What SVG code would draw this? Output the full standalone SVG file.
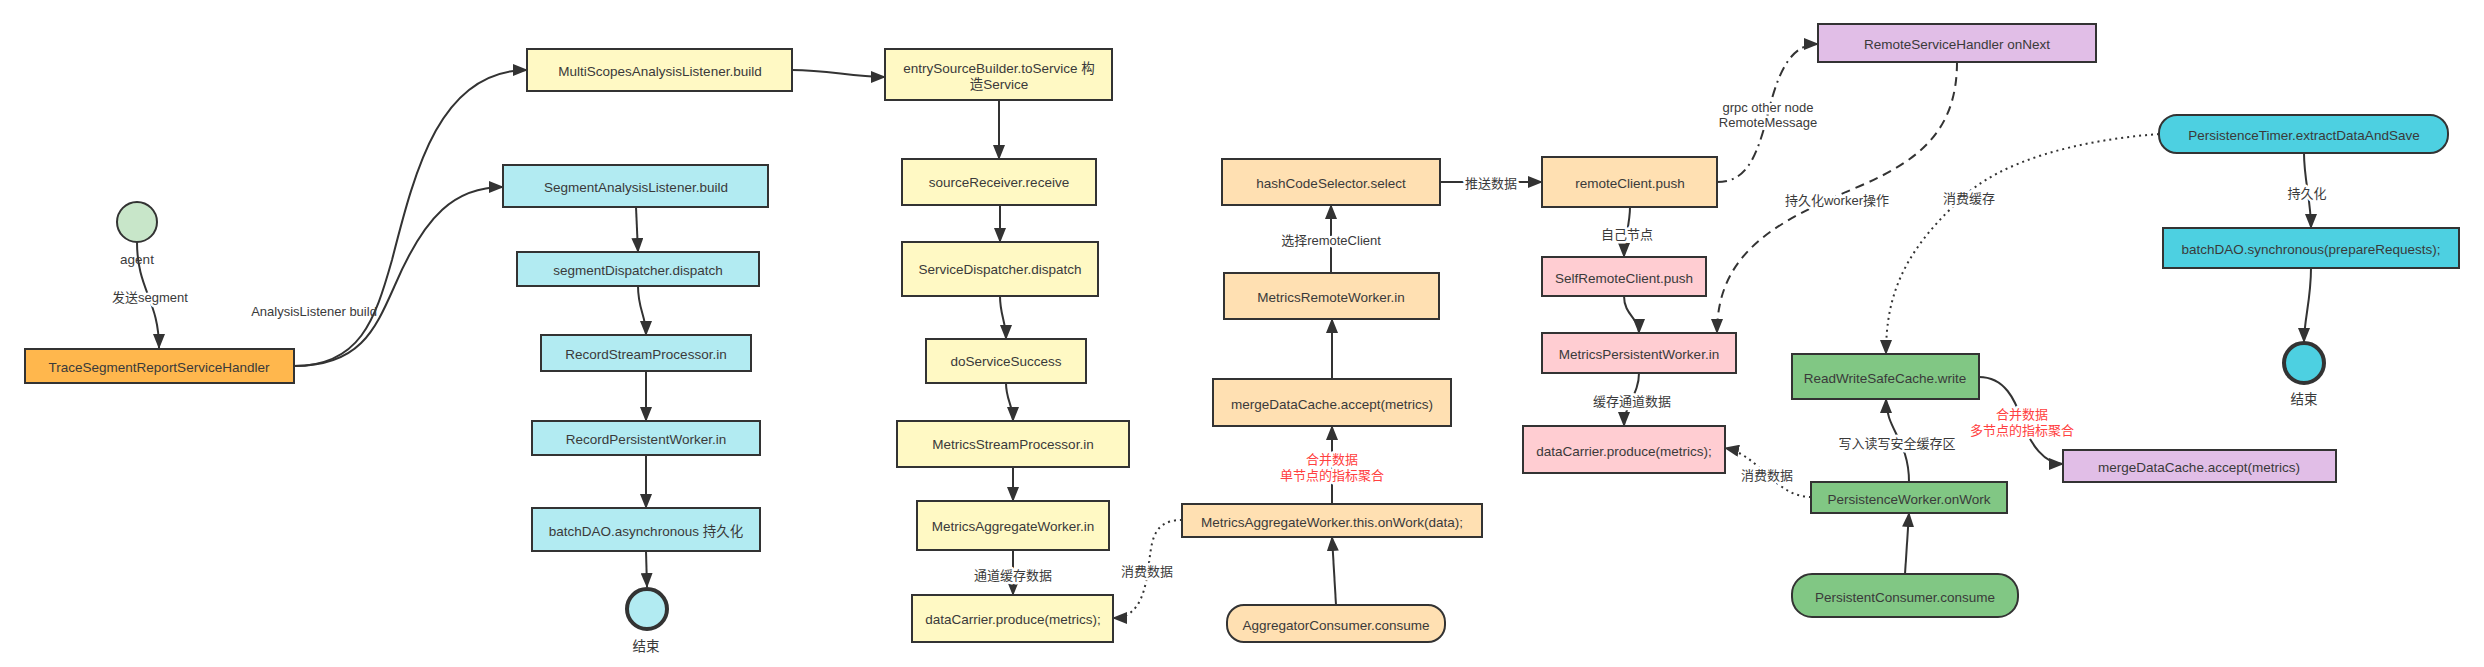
<svg xmlns="http://www.w3.org/2000/svg" width="2484" height="667" viewBox="0 0 2484 667">
<defs>
<style>
text{font-family:"Liberation Sans","Noto Sans CJK SC",sans-serif;fill:#3a3a3a;}
.n{stroke:#333;stroke-width:2;}
.t{font-size:13.5px;text-anchor:middle;dominant-baseline:central;}
.l{font-size:13px;text-anchor:middle;dominant-baseline:central;paint-order:stroke;stroke:#fff;stroke-width:5px;stroke-linejoin:round;}
.r{fill:#ff4040;}
.e{fill:none;stroke:#333;stroke-width:2;marker-end:url(#ah);}
.dot{stroke-dasharray:2 4;}
.dash{stroke-dasharray:9 6;}
.dd{stroke-dasharray:10 5 2 5;}
.y{fill:#fff9c4;} .c{fill:#b2ebf2;} .o{fill:#ffe0b2;} .p{fill:#ffcdd2;} .v{fill:#e1bee7;} .g{fill:#81c784;} .b{fill:#4dd0e1;}
</style>
<marker id="ah" markerUnits="userSpaceOnUse" markerWidth="16" markerHeight="12" refX="14" refY="6" orient="auto">
<path d="M0,0 L15,6 L0,12 Z" fill="#333"/>
</marker>
</defs>
<rect width="2484" height="667" fill="#fff"/>

<g id="connectors">
<path class="e" d="M137,242 C137,290 159,300 159,348"/>
<path class="e" d="M294,366 C360,366 375,320 392,260 C415,170 440,70 527,70"/>
<path class="e" d="M294,366 C360,366 375,330 395,285 C425,215 455,187 503,187"/>
<path class="e" d="M792,70 C830,70 850,77 885,77"/>
<path class="e" d="M999,100 L999,159"/>
<path class="e" d="M1000,205 L1000,242"/>
<path class="e" d="M1000,296 C1000,315 1006,322 1006,339"/>
<path class="e" d="M1006,383 C1006,400 1013,405 1013,421"/>
<path class="e" d="M1013,467 L1013,501"/>
<path class="e" d="M1013,550 L1013,595"/>
<path class="e" d="M636,207 L638,252"/>
<path class="e" d="M638,286 C638,310 646,315 646,335"/>
<path class="e" d="M646,371 L646,421"/>
<path class="e" d="M646,455 L646,508"/>
<path class="e" d="M646,551 L647,587"/>
<path class="e" d="M1336,605 L1332,537"/>
<path class="e" d="M1332,504 L1332,426"/>
<path class="e" d="M1332,379 L1332,319"/>
<path class="e" d="M1331,273 L1331,205"/>
<path class="e" d="M1440,182 L1542,182"/>
<path class="e dot" d="M1182,520 C1150,520 1152,545 1148,570 C1144,600 1135,618 1113,618"/>
<path class="e" d="M1630,207 C1630,225 1624,240 1624,257"/>
<path class="e" d="M1624,296 C1624,315 1639,318 1639,333"/>
<path class="e" d="M1639,373 C1639,395 1624,405 1624,426"/>
<path class="e dd" d="M1717,182 C1745,182 1755,160 1765,125 C1775,85 1785,44 1818,44"/>
<path class="e dash" d="M1957,62 C1957,130 1920,160 1860,186 C1780,220 1717,250 1717,333"/>
<path class="e dot" d="M2159,134 C2080,140 2000,160 1960,200 C1900,255 1886,300 1886,354"/>
<path class="e" d="M1905,574 L1909,513"/>
<path class="e" d="M1909,482 C1909,440 1886,430 1886,399"/>
<path class="e dot" d="M1811,497 C1775,497 1760,455 1725,448"/>
<path class="e" d="M1979,377 C2005,377 2015,400 2022,420 C2030,445 2045,464 2063,464"/>
<path class="e" d="M2304,153 C2304,180 2311,200 2311,228"/>
<path class="e" d="M2311,268 C2311,300 2304,320 2304,342"/>

<text class="l" x="150" y="297">发送segment</text>
<text class="t" x="314" y="311" style="font-size:13px">AnalysisListener build</text>
<text class="l" x="1013" y="575">通道缓存数据</text>
<text class="l" x="1147" y="571">消费数据</text>
<text class="l r" x="1332" y="459">合并数据</text>
<text class="l r" x="1332" y="475">单节点的指标聚合</text>
<text class="l" x="1331" y="240">选择remoteClient</text>
<text class="l" x="1491" y="183">推送数据</text>
<text class="l" x="1768" y="107">grpc other node</text>
<text class="l" x="1768" y="122">RemoteMessage</text>
<text class="l" x="1627" y="234">自己节点</text>
<text class="l" x="1632" y="401">缓存通道数据</text>
<text class="l" x="1837" y="200">持久化worker操作</text>
<text class="l" x="1969" y="198">消费缓存</text>
<text class="l" x="1897" y="443">写入读写安全缓存区</text>
<text class="l" x="1767" y="475">消费数据</text>
<text class="l r" x="2022" y="414">合并数据</text>
<text class="l r" x="2022" y="430">多节点的指标聚合</text>
<text class="l" x="2307" y="193">持久化</text>
</g>

<g id="agent"><circle class="n" cx="137" cy="222" r="20" fill="#c8e6c9"/><text class="t" x="137" y="259">agent</text></g>
<g id="traceHandler"><rect class="n" x="25" y="349" width="269" height="34" fill="#ffb74d"/><text class="t" x="159" y="367">TraceSegmentReportServiceHandler</text></g>

<g id="multiScopes"><rect class="n y" x="527" y="49" width="265" height="42"/><text class="t" x="660" y="71">MultiScopesAnalysisListener.build</text></g>
<g id="entrySource"><rect class="n y" x="885" y="49" width="227" height="51"/><text class="t" x="999" y="68">entrySourceBuilder.toService 构</text><text class="t" x="999" y="84">造Service</text></g>
<g id="sourceReceiver"><rect class="n y" x="902" y="159" width="194" height="46"/><text class="t" x="999" y="182">sourceReceiver.receive</text></g>
<g id="serviceDispatcher"><rect class="n y" x="902" y="242" width="196" height="54"/><text class="t" x="1000" y="269">ServiceDispatcher.dispatch</text></g>
<g id="doServiceSuccess"><rect class="n y" x="926" y="339" width="160" height="44"/><text class="t" x="1006" y="361">doServiceSuccess</text></g>
<g id="metricsStreamProcessor"><rect class="n y" x="897" y="421" width="232" height="46"/><text class="t" x="1013" y="444">MetricsStreamProcessor.in</text></g>
<g id="metricsAggregateWorkerIn"><rect class="n y" x="917" y="501" width="192" height="49"/><text class="t" x="1013" y="526">MetricsAggregateWorker.in</text></g>
<g id="dataCarrier1"><rect class="n y" x="912" y="595" width="201" height="47"/><text class="t" x="1013" y="619">dataCarrier.produce(metrics);</text></g>

<g id="segmentAnalysis"><rect class="n c" x="503" y="165" width="265" height="42"/><text class="t" x="636" y="187">SegmentAnalysisListener.build</text></g>
<g id="segmentDispatcher"><rect class="n c" x="517" y="252" width="242" height="34"/><text class="t" x="638" y="270">segmentDispatcher.dispatch</text></g>
<g id="recordStreamProcessor"><rect class="n c" x="541" y="335" width="210" height="36"/><text class="t" x="646" y="354">RecordStreamProcessor.in</text></g>
<g id="recordPersistentWorker"><rect class="n c" x="532" y="421" width="228" height="34"/><text class="t" x="646" y="439">RecordPersistentWorker.in</text></g>
<g id="batchAsync"><rect class="n c" x="532" y="508" width="228" height="43"/><text class="t" x="646" y="531">batchDAO.asynchronous 持久化</text></g>
<g id="end1"><circle cx="647" cy="609" r="20" fill="#b2ebf2" stroke="#333" stroke-width="4"/><text class="t" x="646" y="646">结束</text></g>

<g id="hashCodeSelector"><rect class="n o" x="1222" y="159" width="218" height="46"/><text class="t" x="1331" y="183">hashCodeSelector.select</text></g>
<g id="metricsRemoteWorker"><rect class="n o" x="1224" y="273" width="215" height="46"/><text class="t" x="1331" y="297">MetricsRemoteWorker.in</text></g>
<g id="mergeDataCache1"><rect class="n o" x="1213" y="379" width="238" height="47"/><text class="t" x="1332" y="404">mergeDataCache.accept(metrics)</text></g>
<g id="aggregateOnWork"><rect class="n o" x="1182" y="504" width="300" height="33"/><text class="t" x="1332" y="522">MetricsAggregateWorker.this.onWork(data);</text></g>
<g id="aggregatorConsumer"><rect class="n o" x="1227" y="605" width="218" height="37" rx="17"/><text class="t" x="1336" y="625">AggregatorConsumer.consume</text></g>

<g id="remoteClient"><rect class="n o" x="1542" y="157" width="175" height="50"/><text class="t" x="1630" y="183">remoteClient.push</text></g>
<g id="remoteServiceHandler"><rect class="n v" x="1818" y="24" width="278" height="38"/><text class="t" x="1957" y="44">RemoteServiceHandler onNext</text></g>
<g id="selfRemoteClient"><rect class="n p" x="1542" y="257" width="164" height="39"/><text class="t" x="1624" y="278">SelfRemoteClient.push</text></g>
<g id="metricsPersistentWorker"><rect class="n p" x="1542" y="333" width="194" height="40"/><text class="t" x="1639" y="354">MetricsPersistentWorker.in</text></g>
<g id="dataCarrier2"><rect class="n p" x="1523" y="426" width="202" height="47"/><text class="t" x="1624" y="451">dataCarrier.produce(metrics);</text></g>

<g id="readWriteSafeCache"><rect class="n g" x="1792" y="354" width="187" height="45"/><text class="t" x="1885" y="378">ReadWriteSafeCache.write</text></g>
<g id="persistenceWorker"><rect class="n g" x="1811" y="482" width="196" height="31"/><text class="t" x="1909" y="499">PersistenceWorker.onWork</text></g>
<g id="persistentConsumer"><rect class="n g" x="1792" y="574" width="226" height="43" rx="20"/><text class="t" x="1905" y="597">PersistentConsumer.consume</text></g>
<g id="mergeDataCache2"><rect class="n v" x="2063" y="450" width="273" height="32"/><text class="t" x="2199" y="467">mergeDataCache.accept(metrics)</text></g>

<g id="persistenceTimer"><rect class="n b" x="2159" y="115" width="289" height="38" rx="18"/><text class="t" x="2304" y="135">PersistenceTimer.extractDataAndSave</text></g>
<g id="batchSync"><rect class="n b" x="2163" y="228" width="296" height="40"/><text class="t" x="2311" y="249">batchDAO.synchronous(prepareRequests);</text></g>
<g id="end2"><circle cx="2304" cy="363" r="20" fill="#4dd0e1" stroke="#333" stroke-width="4"/><text class="t" x="2304" y="399">结束</text></g>
</svg>
